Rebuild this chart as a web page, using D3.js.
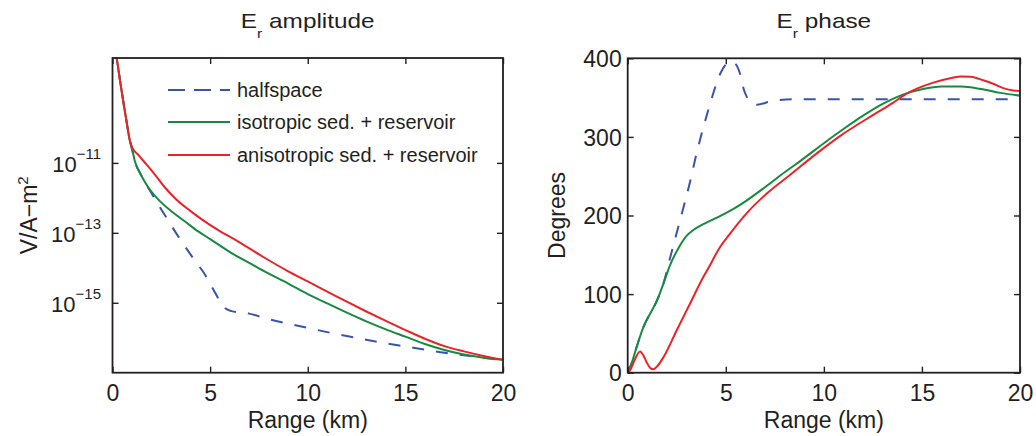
<!DOCTYPE html>
<html>
<head>
<meta charset="utf-8">
<script src="https://cdn.jsdelivr.net/npm/d3@7"></script>
<style>
  html, body { margin: 0; padding: 0; background: #fff; }
  svg { display: block; font-family: "Liberation Sans", Arial, Helvetica, sans-serif; }
</style>
</head>
<body>
<svg id="chart" width="1036" height="436"></svg>
<script>
// ---- Data -------------------------------------------------------------
const seriesNames = ["halfspace", "isotropic sed. + reservoir", "anisotropic sed. + reservoir"];
const xTicks = [0, 5, 10, 15, 20];
const ampTickExponents = [-11, -13, -15];
const phaseTicks = [0, 100, 200, 300, 400];

// E_r amplitude, stored as log10 of V/A-m^2, against range in km
const ampHalfKm  = [0.1, 0.215, 0.4, 0.553, 0.7, 0.9, 1.0, 1.15, 1.45, 1.6, 2.0, 2.3, 2.8, 3.54, 4.1, 4.74, 5.17, 5.51, 5.76, 6.1, 7, 8, 9, 10, 11, 12, 13, 14, 15, 16, 17, 18, 19, 20];
const ampHalfLog = [-7.7, -8.01, -8.7, -9.25, -9.75, -10.39, -10.6, -10.96, -11.33, -11.49, -11.87, -12.15, -12.6, -13.25, -13.7, -14.2, -14.63, -14.96, -15.15, -15.24, -15.31, -15.47, -15.6, -15.72, -15.84, -15.95, -16.06, -16.16, -16.25, -16.34, -16.43, -16.5, -16.57, -16.63];

const ampIsoKm  = [0.1, 0.215, 0.4, 0.553, 0.7, 0.9, 1.0, 1.15, 1.45, 1.6, 1.83, 2.0, 2.4, 3.03, 3.7, 4.39, 5, 6.1, 7, 7.81, 9, 10, 11, 12, 13, 14, 15, 16, 17, 18, 19, 20];
const ampIsoLog = [-7.7, -8.01, -8.7, -9.25, -9.75, -10.39, -10.6, -10.96, -11.33, -11.49, -11.7, -11.83, -12.08, -12.39, -12.67, -12.96, -13.18, -13.58, -13.86, -14.11, -14.45, -14.75, -15.02, -15.28, -15.53, -15.76, -15.97, -16.18, -16.35, -16.48, -16.57, -16.63];

const ampAnisoKm  = [0.1, 0.215, 0.4, 0.553, 0.7, 0.9, 1.0, 1.32, 1.75, 2.18, 2.7, 3.2, 4.0, 4.74, 5.5, 6.44, 7.81, 9, 10, 11, 12, 13, 14, 15, 16, 17, 18, 19, 20];
const ampAnisoLog = [-7.7, -8.01, -8.7, -9.25, -9.75, -10.39, -10.55, -10.77, -11.05, -11.34, -11.71, -12.01, -12.38, -12.68, -12.95, -13.25, -13.72, -14.1, -14.39, -14.68, -14.97, -15.25, -15.52, -15.78, -16.03, -16.24, -16.39, -16.52, -16.63];

// E_r phase in degrees against range in km
const phHalfKm = [0, 0.2, 0.46, 0.8, 1.14, 1.48, 1.83, 2.16, 2.67, 3.18, 3.52, 3.9, 4.2, 4.5, 4.71, 5.0, 5.25, 5.45, 5.73, 5.9, 6.07, 6.3, 6.6, 7.26, 7.76, 8.78, 10, 12, 14, 16, 18, 20];
const phHalf   = [0, 12, 33, 58, 75, 91, 114, 146, 194, 243, 280, 316, 342, 366, 380, 392, 396, 394, 380, 362, 351, 343, 341, 345, 347, 348, 348, 348, 348, 348, 348, 348];

const phIsoKm = [0, 0.2, 0.46, 0.8, 1.14, 1.48, 1.83, 2.16, 2.6, 3.0, 3.35, 3.86, 4.36, 5, 5.5, 6, 7, 8, 9, 10, 11, 12, 13, 14, 15, 16, 17, 18, 19, 20];
const phIso   = [0, 12, 33, 58, 75, 91, 114, 137, 159, 174, 181.5, 189, 195, 203, 210, 218, 236, 255, 273, 292, 310, 327, 342, 353.5, 360.5, 364, 364, 361, 356, 352.5];

const phAnisoKm = [0, 0.12, 0.35, 0.63, 0.8, 0.97, 1.15, 1.3, 1.5, 1.83, 2.5, 3.18, 3.86, 4.11, 4.71, 5.22, 6.07, 7.09, 8.27, 9.64, 10.82, 12.52, 13.5, 14.22, 15.58, 16.5, 17.0, 17.5, 18.13, 18.6, 19.15, 19.66, 20];
const phAniso   = [0, 3, 16, 27, 22, 13, 6, 4.3, 8, 20, 54, 88, 122, 133, 160, 177, 203, 228, 251.5, 279, 301, 328, 343, 355, 369, 375, 377, 376.5, 372, 368, 362, 359, 358.5];

// ---- Styling ----------------------------------------------------------
const INK = "#231f20";
const colors = ["#3a55a8", "#178a42", "#ec2227"];
const dashes = ["12,12", null, null];

const svg = d3.select("#chart");
svg.append("rect").attr("width", 1036).attr("height", 436).attr("fill", "#fff");

const boxL = { x0: 112.5, x1: 503, y0: 58, y1: 372.7 };
const boxR = { x0: 627.7, x1: 1020, y0: 58.3, y1: 372.7 };

const xL = d3.scaleLinear().domain([0, 20]).range([boxL.x0, boxL.x1]);
const yL = d3.scaleLog().domain([1e-17, 1e-8]).range([boxL.y1, boxL.y0]);
const xR = d3.scaleLinear().domain([0, 20]).range([boxR.x0, boxR.x1]);
const yR = d3.scaleLinear().domain([0, 400]).range([boxR.y1, boxR.y0]);

const defs = svg.append("defs");
function clipFor(id, b) {
  defs.append("clipPath").attr("id", id).append("rect")
    .attr("x", b.x0).attr("y", b.y0).attr("width", b.x1 - b.x0).attr("height", b.y1 - b.y0);
  return `url(#${id})`;
}

function zip(xs, ys, f) { return xs.map((x, i) => [x, f ? f(ys[i]) : ys[i]]); }
const pow10 = v => Math.pow(10, v);

function drawLines(g, xs, ys, clip, sets) {
  const line = d3.line().x(d => xs(d[0])).y(d => ys(d[1])).curve(d3.curveMonotoneX);
  const lg = g.append("g").attr("clip-path", clip);
  sets.forEach((pts, i) => {
    lg.append("path")
      .attr("d", line(pts))
      .attr("fill", "none")
      .attr("stroke", colors[i])
      .attr("stroke-width", 2)
      .attr("stroke-dasharray", dashes[i])
      .attr("stroke-linejoin", "round");
  });
}

function drawFrame(g, b, xs, ys, yTickVals) {
  const tick = 6;
  const axB = g.append("g").attr("transform", `translate(0,${b.y1})`)
    .call(d3.axisBottom(xs).tickValues(xTicks).tickSizeInner(-tick).tickSizeOuter(0).tickPadding(12));
  const axT = g.append("g").attr("transform", `translate(0,${b.y0})`)
    .call(d3.axisTop(xs).tickValues(xTicks).tickSizeInner(-tick).tickSizeOuter(0).tickFormat(""));
  const axLft = g.append("g").attr("transform", `translate(${b.x0},0)`)
    .call(d3.axisLeft(ys).tickValues(yTickVals).tickSizeInner(-tick).tickSizeOuter(0).tickPadding(6));
  const axRt = g.append("g").attr("transform", `translate(${b.x1},0)`)
    .call(d3.axisRight(ys).tickValues(yTickVals).tickSizeInner(-tick).tickSizeOuter(0).tickFormat(""));
  [axB, axT, axLft, axRt].forEach(a => {
    a.select(".domain").remove();
    a.selectAll(".tick line").attr("stroke", INK).attr("stroke-width", 1.4);
    a.selectAll(".tick text").attr("fill", INK).attr("font-size", 23)
      .attr("font-family", '"Liberation Sans", Arial, Helvetica, sans-serif');
  });
  g.append("rect")
    .attr("x", b.x0).attr("y", b.y0).attr("width", b.x1 - b.x0).attr("height", b.y1 - b.y0)
    .attr("fill", "none").attr("stroke", INK).attr("stroke-width", 1.8);
  return axLft;
}

function title(g, cx, word) {
  const t = g.append("text")
    .attr("transform", `translate(${cx},28.3) scale(1.16,1)`)
    .attr("text-anchor", "middle").attr("fill", INK).attr("font-size", 21);
  t.append("tspan").text("E");
  t.append("tspan").attr("font-size", 13.5).attr("dy", 9.5).text("r");
  t.append("tspan").attr("dy", -9.5).text("\u00a0" + word);
}

// ---- Left panel: amplitude -------------------------------------------
const gL = svg.append("g");
drawLines(gL, xL, yL, clipFor("clipL", boxL), [
  zip(ampHalfKm, ampHalfLog, pow10),
  zip(ampIsoKm, ampIsoLog, pow10),
  zip(ampAnisoKm, ampAnisoLog, pow10)
]);
const ampTickVals = ampTickExponents.map(pow10);
const axAmp = drawFrame(gL, boxL, xL, yL, ampTickVals);
axAmp.selectAll(".tick text").remove();
ampTickExponents.forEach(e => {
  const y = yL(pow10(e));
  const t = gL.append("text").attr("x", 101).attr("y", y + 9.5)
    .attr("text-anchor", "end").attr("fill", INK).attr("font-size", 22);
  t.append("tspan").text("10");
  t.append("tspan").attr("font-size", 15).attr("dy", -13.5).text("\u2212" + Math.abs(e));
});
title(gL, (boxL.x0 + boxL.x1) / 2, "amplitude");
gL.append("text").attr("x", (boxL.x0 + boxL.x1) / 2).attr("y", 428)
  .attr("text-anchor", "middle").attr("fill", INK).attr("font-size", 23).text("Range (km)");
const yLab = gL.append("text")
  .attr("transform", `translate(37,${(boxL.y0 + boxL.y1) / 2}) rotate(-90)`)
  .attr("text-anchor", "middle").attr("fill", INK).attr("font-size", 23);
yLab.append("tspan").text("V/A\u2212m");
yLab.append("tspan").attr("font-size", 15).attr("dy", -9).text("2");

// Legend
const legend = gL.append("g");
const legRows = [90, 122, 155];
seriesNames.forEach((name, i) => {
  legend.append("line")
    .attr("x1", 168).attr("x2", 230).attr("y1", legRows[i]).attr("y2", legRows[i])
    .attr("stroke", colors[i]).attr("stroke-width", 2)
    .attr("stroke-dasharray", i === 0 ? "17,9" : null);
  legend.append("text").attr("x", 237).attr("y", legRows[i] + 6.8)
    .attr("fill", INK).attr("font-size", 20).text(name);
});

// ---- Right panel: phase ----------------------------------------------
const gR = svg.append("g");
drawLines(gR, xR, yR, clipFor("clipR", boxR), [
  zip(phHalfKm, phHalf),
  zip(phIsoKm, phIso),
  zip(phAnisoKm, phAniso)
]);
const axPh = drawFrame(gR, boxR, xR, yR, phaseTicks);
axPh.selectAll(".tick text").attr("dy", "0.36em");
title(gR, (boxR.x0 + boxR.x1) / 2, "phase");
gR.append("text").attr("x", (boxR.x0 + boxR.x1) / 2).attr("y", 428)
  .attr("text-anchor", "middle").attr("fill", INK).attr("font-size", 23).text("Range (km)");
gR.append("text")
  .attr("transform", `translate(565,${(boxR.y0 + boxR.y1) / 2}) rotate(-90)`)
  .attr("text-anchor", "middle").attr("fill", INK).attr("font-size", 23).text("Degrees");
</script>
</body>
</html>
